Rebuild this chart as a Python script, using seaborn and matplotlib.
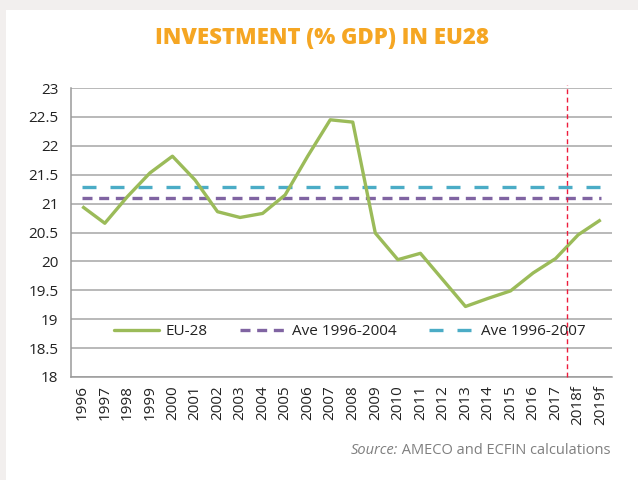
import numpy as np
import pandas as pd
import matplotlib
matplotlib.use("Agg")
import matplotlib.pyplot as plt
import seaborn as sns
from matplotlib.patches import Rectangle
from matplotlib.lines import Line2D

years = ["1996", "1997", "1998", "1999", "2000", "2001", "2002", "2003", "2004",
         "2005", "2006", "2007", "2008", "2009", "2010", "2011", "2012", "2013",
         "2014", "2015", "2016", "2017", "2018f", "2019f"]
eu28 = [20.95, 20.66, 21.12, 21.53, 21.82, 21.41, 20.86, 20.76, 20.83,
        21.15, 21.82, 22.45, 22.41, 20.49, 20.03, 20.14, 19.68, 19.22,
        19.36, 19.49, 19.80, 20.05, 20.46, 20.72]
ave_96_04 = 21.10
ave_96_07 = 21.28
forecast_boundary = 21.5

sns.set_theme(style="white")
plt.rcParams["font.family"] = ["Open Sans", "DejaVu Sans"]

x = np.arange(len(years))
df = pd.DataFrame({
    "x": np.concatenate([x, x, x]),
    "value": eu28 + [ave_96_04] * len(years) + [ave_96_07] * len(years),
    "series": ["EU-28"] * len(years) + ["Ave 1996-2004"] * len(years) + ["Ave 1996-2007"] * len(years),
})

fig = plt.figure(figsize=(6.38, 4.8), dpi=100)
fig.patch.set_facecolor("white")
fig.patches.append(Rectangle((0, 1 - 10 / 480), 1, 10 / 480, transform=fig.transFigure,
                             facecolor="#F2EFEE", edgecolor="none", zorder=-10))
fig.patches.append(Rectangle((0, 0), 6 / 638, 1, transform=fig.transFigure,
                             facecolor="#F2EFEE", edgecolor="none", zorder=-10))
ax = fig.add_axes([71 / 638, 103 / 480, 541 / 638, 289 / 480])
ax.set_facecolor("none")

palette = {"EU-28": "#9BBB59", "Ave 1996-2004": "#8064A2", "Ave 1996-2007": "#4BACC6"}
sns.lineplot(data=df, x="x", y="value", hue="series", palette=palette, ax=ax,
             linewidth=2.4, legend=False)
lines = ax.get_lines()
lines[1].set_dashes([3, 2])
lines[2].set_dashes([4.2, 4.2])
for l in lines:
    l.set_dash_capstyle("butt")
    l.set_solid_capstyle("butt")
lines[0].set_zorder(5)

ax.axvline(forecast_boundary, ymin=0, ymax=1.01, color="#EE1C3C", linewidth=1.0,
           dashes=(3.5, 2.5), zorder=6, clip_on=False)

ax.set_xlim(-0.5, len(years) - 0.5)
ax.set_ylim(18, 23)
yt = np.arange(18, 23.01, 0.5)
ax.set_yticks(yt)
ax.set_yticklabels([f"{v:g}" for v in yt], fontsize=11, color="#222222")
ax.set_xticks(x)
ax.set_xticklabels(years, rotation=90, fontsize=11, color="#222222")
ax.set_xticks(np.arange(-0.5, len(years), 1), minor=True)
ax.tick_params(axis="x", which="major", length=0, pad=6)
ax.tick_params(axis="x", which="minor", length=5, color="#9A9A9A", width=1, direction="out")
ax.tick_params(axis="y", length=5, color="#9A9A9A", width=1, direction="out", pad=4)
ax.grid(axis="y", color="#A6A6A6", linewidth=1.1)
ax.set_axisbelow(True)
for s in ["top", "right"]:
    ax.spines[s].set_visible(False)
for s in ["left", "bottom"]:
    ax.spines[s].set_color("#9A9A9A")
    ax.spines[s].set_linewidth(1.1)
ax.set_xlabel("")
ax.set_ylabel("")

handles = [Line2D([], [], color=palette["EU-28"], linewidth=2.4),
           Line2D([], [], color=palette["Ave 1996-2004"], linewidth=2.4, dashes=[3, 2], dash_capstyle="butt"),
           Line2D([], [], color=palette["Ave 1996-2007"], linewidth=2.4, dashes=[4.2, 4.2], dash_capstyle="butt")]
leg = ax.legend(handles, ["EU-28", "Ave 1996-2004", "Ave 1996-2007"], ncol=3, frameon=False,
                loc="center", bbox_to_anchor=(0.515, 0.156), fontsize=11, handlelength=2.95,
                columnspacing=2.1, handletextpad=0.45)
for t in leg.get_texts():
    t.set_color("#222222")

fig.text(322 / 638, 1 - 38 / 480, "INVESTMENT (% GDP) IN EU28", ha="center", va="center",
         fontsize=16, fontweight="heavy", color="#F5A623")

t1 = fig.text(610 / 638, 1 - 451 / 480, " AMECO and ECFIN calculations", ha="right", va="center",
              fontsize=10.5, color="#7F7F7F")
fig.canvas.draw()
bb = t1.get_window_extent()
fig.text(bb.x0 / fig.bbox.width, 1 - 451 / 480, "Source:", ha="right", va="center",
         fontsize=10.5, color="#7F7F7F", style="italic")

fig.savefig("out.png", dpi=100, facecolor=fig.get_facecolor())
